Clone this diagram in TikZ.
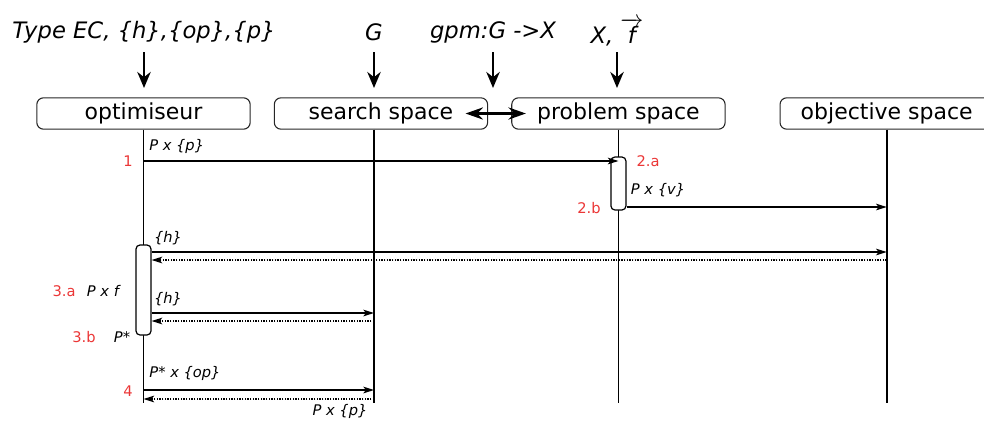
\documentclass[tikz,border=0pt]{standalone}
\usepackage{fontspec}
\usepackage{amsmath}
\setmainfont{DejaVu Sans}
\usetikzlibrary{positioning,arrows.meta}
\definecolor{stepred}{RGB}{235,55,55}

\tikzset{
  spacebox/.style={draw=black!85, line width=0.8pt, rounded corners=5pt, minimum width=160pt, minimum height=23.5pt, inner sep=0pt, font=\fontsize{16.5}{20}\selectfont},
  given/.style={inner sep=0pt, font=\fontsize{17}{20}\selectfont\itshape},
  feed/.style={-{Stealth[length=12pt,width=10pt]}, line width=2.2pt},
  life/.style={line width=1.2pt},
  activ/.style={draw, fill=white, line width=0.9pt, rounded corners=3pt, minimum width=11.25pt, inner sep=0pt},
  call/.style={-{Stealth[length=8pt,width=5pt,inset=2pt]}, line width=1pt},
  reply/.style={call, densely dotted},
  msg/.style={inner sep=0pt, font=\fontsize{11}{13}\selectfont\itshape},
  num/.style={inner sep=0pt, text=stepred, font=\fontsize{11}{13}\selectfont}
}

\begin{document}
\begin{tikzpicture}[x=0.75pt, y=-0.75pt]
    \useasboundingbox (0,0) rectangle (984,422);

    % the four spaces
    \node[spacebox] (opt) at (143.5,113.5) {optimiseur};
    \node[spacebox, right=17.3pt of opt] (srch) {search space\hspace{6pt}};
    \node[spacebox, right=17.3pt of srch] (prob) {problem space};
    \node[spacebox, right=40.4pt of prob] (obj) {objective space};

    % what is given to each
    \node[given] (t1) at (144,32) {Type EC, \{h\},\{op\},\{p\}};
    \node[given] (t2) at (374,32) {G};
    \node[given] (t3) at (493,32) {gpm:G ->X};
    \node[given] (t4) at (617,32) {X, $\overrightarrow{\text{\itshape\,f\,}}$};
    \coordinate (feedtop) at (0,52);
    \coordinate (feedtip) at (0,88);
    \foreach \t in {t1,t2,t3,t4}
        \draw[feed] (\t |- feedtop) -- (\t |- feedtip);
    \draw[{Stealth[length=13pt,width=9pt]}-{Stealth[length=13pt,width=9pt]}, line width=2.2pt,
          shorten <=-17pt, shorten >=-11pt] (srch.east) -- (prob.west);

    % lifelines
    \coordinate (optL) at (opt.south);
    \coordinate (srchL) at ([xshift=-5.25pt]srch.south);
    \coordinate (probL) at (prob.south);
    \coordinate (objL) at (obj.south);
    \coordinate (bot) at (0,403);
    \foreach \l in {optL,srchL,probL,objL}
        \draw[life] (\l) -- (\l |- bot);

    \node[activ, minimum height=39.75pt] (act2) at (probL |- {0,183.5}) {};
    \node[activ, minimum height=67.5pt] (act3) at (optL |- {0,290}) {};

    % messages
    \coordinate (m1) at (0,161);
    \coordinate (m2) at (0,207);
    \coordinate (h1) at (0,252);
    \coordinate (h1r) at (0,260);
    \coordinate (h2) at (0,313);
    \coordinate (h2r) at (0,321);
    \coordinate (m4) at (0,390);
    \coordinate (m4r) at (0,399);

    \draw[call] (optL |- m1) -- (probL |- m1);
    \draw[call] (act2.east |- m2) -- (objL |- m2);
    \draw[call] (act3.east |- h1) -- (objL |- h1);
    \draw[reply] (objL |- h1r) -- (act3.east |- h1r);
    \draw[call] (act3.east |- h2) -- (srchL |- h2);
    \draw[reply] (srchL |- h2r) -- (act3.east |- h2r);
    \draw[call] (optL |- m4) -- (srchL |- m4);
    \draw[reply] (srchL |- m4r) -- (optL |- m4r);

    % labels
    \node[msg, anchor=west] (l1) at (149,146) {P x \{p\}};
    \node[msg] (l2) at (658,190) {P x \{v\}};
    \node[msg] (l3) at (168,238) {\{h\}};
    \node[msg] (l4) at (103,291) {P x f};
    \node[msg] (l5) at (168,299) {\{h\}};
    \node[msg] (l6) at (122,337) {P*};
    \node[msg] (l7) at (185,373) {P* x \{op\}};
    \node[msg] (l8) at (340,411) {P x \{p\}};

    \node[num] (n1) at (128,161) {1};
    \node[num] (n2a) at (648,161) {2.a};
    \node[num] (n2b) at (589,208) {2.b};
    \node[num] (n3a) at (64,291) {3.a};
    \node[num] (n3b) at (84,337) {3.b};
    \node[num] (n4) at (128,391) {4};
\end{tikzpicture}
\end{document}
